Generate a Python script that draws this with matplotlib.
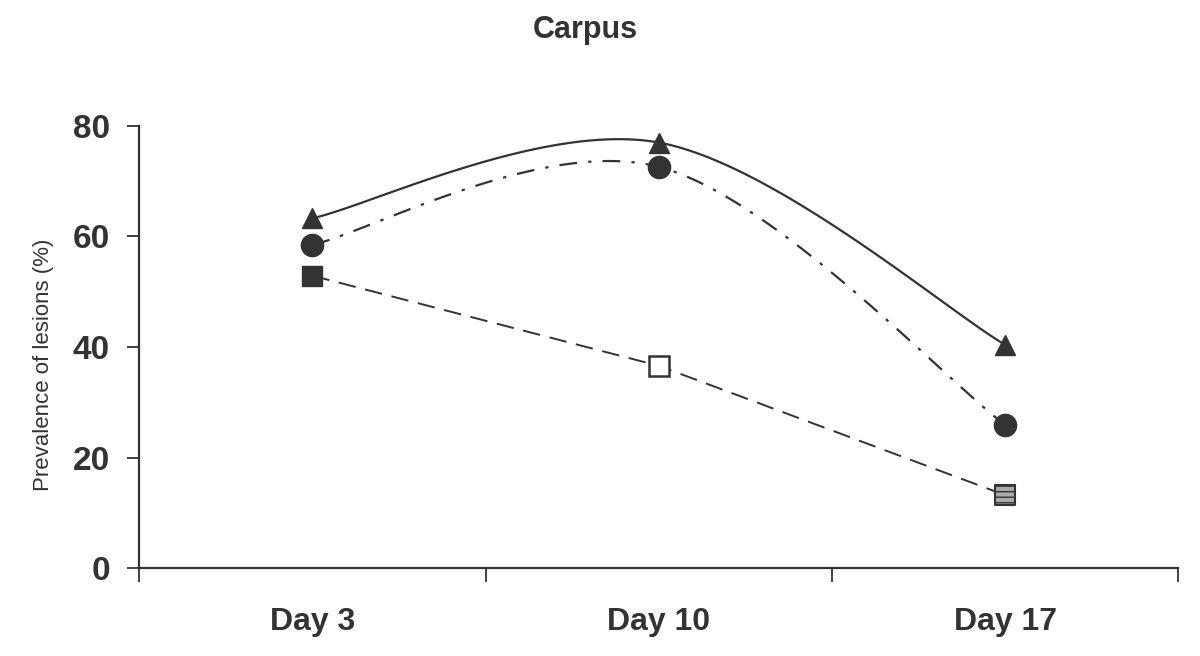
import numpy as np
import matplotlib.pyplot as plt

days = ["Day 3", "Day 10", "Day 17"]
triangle = [63.3, 77.0, 40.4]
circle = [58.5, 72.6, 25.9]
square = [52.9, 36.6, 13.2]

plt.rcParams['font.family'] = ['Liberation Sans', 'DejaVu Sans']
ink = "#333333"


def smooth(x, y, n=60):
    # Catmull-Rom style smoothing, like a spreadsheet "smoothed line"
    x = np.asarray(x, float)
    y = np.asarray(y, float)
    px = np.concatenate([[x[0]], x, [x[-1]]])
    py = np.concatenate([[y[0]], y, [y[-1]]])
    xs, ys = [], []
    for i in range(1, len(px) - 2):
        t = np.linspace(0, 1, n)
        b0 = np.array([px[i], py[i]])
        b3 = np.array([px[i + 1], py[i + 1]])
        b1 = b0 + (np.array([px[i + 1], py[i + 1]]) - np.array([px[i - 1], py[i - 1]])) / 6
        b2 = b3 - (np.array([px[i + 2], py[i + 2]]) - np.array([px[i], py[i]])) / 6
        pts = ((1 - t) ** 3)[:, None] * b0 + (3 * (1 - t) ** 2 * t)[:, None] * b1 \
            + (3 * (1 - t) * t ** 2)[:, None] * b2 + (t ** 3)[:, None] * b3
        xs.extend(pts[:, 0])
        ys.extend(pts[:, 1])
    return np.array(xs), np.array(ys)


fig = plt.figure(figsize=(12, 6.56), dpi=100)
ax = fig.add_axes([0.116, 0.134, 0.866, 0.674])
x = np.arange(len(days))

# triangle series: solid smoothed
sx, sy = smooth(x, triangle)
ax.plot(sx, sy, color=ink, lw=1.6)
ax.plot(x, triangle, ls="none", marker="^", ms=15, color=ink)

# circle series: dash-dot smoothed
sx, sy = smooth(x, circle)
ax.plot(sx, sy, color=ink, lw=1.6, dashes=(8, 5, 1.5, 5))
ax.plot(x, circle, ls="none", marker="o", ms=16, color=ink)

# square series: dashed straight
ax.plot(x, square, color=ink, lw=1.4, dashes=(9, 5))
ax.plot(x[0], square[0], ls="none", marker="s", ms=15, color=ink)
ax.plot(x[1], square[1], ls="none", marker="s", ms=14, mfc="white", mec=ink, mew=1.8)
ax.scatter(x[2], square[2], marker="s", s=210, facecolor="#aaaaaa", edgecolor=ink,
           hatch="---", linewidth=1.5, zorder=3)

ax.set_xlim(-0.5, 2.5)
ax.set_ylim(0, 80)
ax.set_yticks([0, 20, 40, 60, 80])
ax.set_xticks([-0.5, 0.5, 1.5, 2.5])
ax.set_xticklabels([])
ax.set_xticks(x, minor=True)
ax.set_xticklabels(days, minor=True)
ax.tick_params(axis="x", which="minor", length=0, pad=28, labelsize=23, labelcolor=ink)
ax.tick_params(axis="x", which="major", length=10, width=1.3, color=ink)
ax.tick_params(axis="y", length=9, width=1.3, color=ink, labelsize=24, labelcolor=ink, pad=12)
for lab in ax.get_xticklabels(minor=True) + ax.get_yticklabels():
    lab.set_fontweight("bold")

for s in ["top", "right"]:
    ax.spines[s].set_visible(False)
for s in ["left", "bottom"]:
    ax.spines[s].set_color(ink)
    ax.spines[s].set_linewidth(1.6)

ax.set_ylabel("Prevalence of lesions (%)", fontsize=16, color=ink)
ax.yaxis.set_label_coords(-0.082, 0.46)
fig.text(0.488, 0.955, "Carpus", ha="center", va="center", fontsize=22,
         fontweight="bold", color=ink)

plt.savefig("out.png", dpi=100)
